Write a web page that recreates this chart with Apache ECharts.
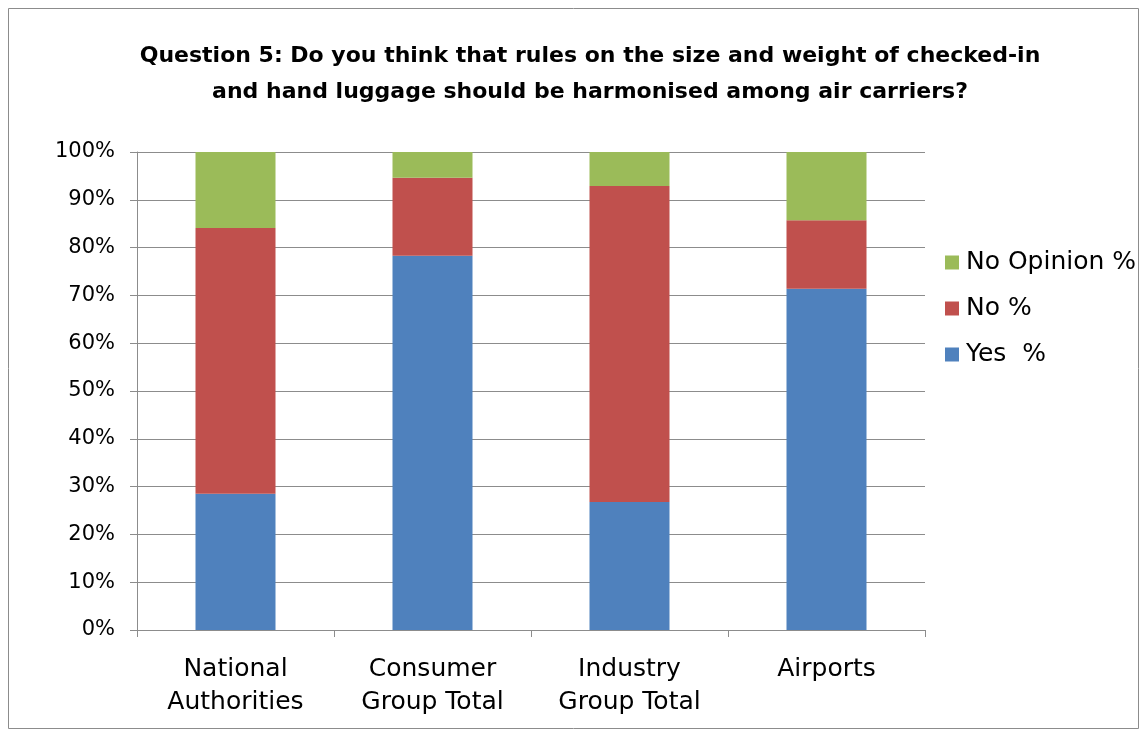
<!DOCTYPE html>
<html>
<head>
<meta charset="utf-8">
<script src="https://cdn.jsdelivr.net/npm/echarts@6/dist/echarts.min.js"></script>
<style>
  html, body { margin: 0; padding: 0; background: #ffffff; }
  #chart { width: 1147px; height: 736px; }
</style>
</head>
<body>
<div id="chart"></div>
<script>
// Survey groups and their answer shares (percent)
const categories = ['National\nAuthorities', 'Consumer\nGroup Total', 'Industry\nGroup Total', 'Airports'];
const yesValues = [28.5, 78.3, 26.8, 71.4];
const noValues = [55.6, 16.3, 66.1, 14.3];
const noOpinionValues = [15.9, 5.4, 7.1, 14.3];
const yTicks = [0, 10, 20, 30, 40, 50, 60, 70, 80, 90, 100];

const font = '"DejaVu Sans", "Noto Sans", sans-serif';
const chart = echarts.init(document.getElementById('chart'));

chart.setOption({
  backgroundColor: '#ffffff',
  animation: false,
  graphic: [{
    type: 'rect',
    shape: { x: 8.5, y: 8.5, width: 1130, height: 720 },
    style: { fill: 'none', stroke: '#8c8c8c', lineWidth: 1 }
  }],
  title: {
    text: 'Question 5: Do you think that rules on the size and weight of checked-in\nand hand luggage should be harmonised among air carriers?',
    left: 585,
    top: 33,
    textAlign: 'center',
    textStyle: { fontFamily: font, fontWeight: 'bold', fontSize: 22, lineHeight: 36, color: '#000' }
  },
  legend: {
    orient: 'vertical',
    left: 940,
    top: 245,
    itemWidth: 14,
    itemHeight: 14,
    itemGap: 21,
    icon: 'rect',
    data: ['No Opinion %', 'No %', 'Yes  %'],
    textStyle: { fontFamily: font, fontSize: 25, lineHeight: 25, color: '#000', padding: [0, 0, 0, 2] }
  },
  grid: { left: 137, right: 222, top: 152, bottom: 106 },
  xAxis: {
    type: 'category',
    data: categories,
    axisLine: { lineStyle: { color: '#8c8c8c' } },
    axisTick: { show: true, length: 7, lineStyle: { color: '#8c8c8c' } },
    axisLabel: { fontFamily: font, fontSize: 25, color: '#000', margin: 23, lineHeight: 33, interval: 0 }
  },
  yAxis: {
    type: 'value',
    min: 0,
    max: 100,
    interval: 10,
    axisLine: { show: true, lineStyle: { color: '#8c8c8c' } },
    axisTick: { show: true, length: 7, lineStyle: { color: '#8c8c8c' } },
    splitLine: { lineStyle: { color: '#8c8c8c', width: 1 } },
    axisLabel: {
      fontFamily: font, fontSize: 21, color: '#000', margin: 22,
      formatter: v => (yTicks.includes(v) ? v + '%' : '')
    }
  },
  series: [
    { name: 'Yes  %', type: 'bar', stack: 'total', data: yesValues, barWidth: 80, itemStyle: { color: '#4f81bd' } },
    { name: 'No %', type: 'bar', stack: 'total', data: noValues, barWidth: 80, itemStyle: { color: '#c0504d' } },
    { name: 'No Opinion %', type: 'bar', stack: 'total', data: noOpinionValues, barWidth: 80, itemStyle: { color: '#9bbb59' } }
  ]
});
</script>
</body>
</html>
